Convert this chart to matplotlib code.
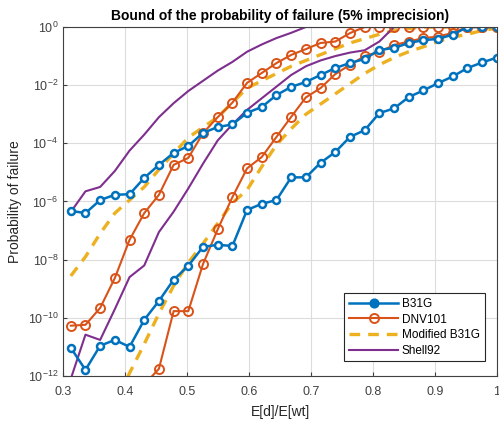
import matplotlib
matplotlib.use('Agg')
import matplotlib.pyplot as plt
import numpy as np

plt.rcParams['font.family'] = ['Liberation Sans', 'DejaVu Sans']
plt.rcParams['mathtext.default'] = 'regular'

# x positions (E[d]/E[wt])
ratio = [0.3125, 0.3362, 0.3599, 0.3836, 0.4073, 0.4310, 0.4547, 0.4784,
         0.5021, 0.5258, 0.5495, 0.5732, 0.5969, 0.6206, 0.6443, 0.6680,
         0.6917, 0.7154, 0.7391, 0.7628, 0.7865, 0.8102, 0.8339, 0.8576,
         0.8813, 0.9050, 0.9287, 0.9524, 0.9761, 1.0000]

# log10 of probability of failure, upper / lower bounds
b31g_up = [-6.32, -6.40, -5.95, -5.77, -5.75, -5.19, -4.74, -4.33, -4.09, -3.64,
           -3.44, -3.35, -2.95, -2.75, -2.34, -2.06, -1.89, -1.65, -1.41, -1.24,
           -1.10, -0.79, -0.72, -0.55, -0.45, -0.41, -0.26, 0.0, 0.0, 0.0]
b31g_lo = [-11.03, -11.79, -10.96, -10.76, -11.00, -10.07, -9.42, -8.69, -8.21, -7.56,
           -7.49, -7.53, -6.29, -6.08, -5.95, -5.17, -5.17, -4.67, -4.30, -3.78,
           -3.55, -2.96, -2.80, -2.41, -2.18, -1.93, -1.70, -1.41, -1.22, -1.05]
dnv_up = [-10.27, -10.24, -9.66, -8.63, -7.32, -6.40, -5.77, -4.74, -4.50, -3.65,
          -3.10, -2.60, -1.92, -1.58, -1.24, -0.96, -0.76, -0.55, -0.50, -0.21,
          0.0, 0.0, 0.0, 0.0, 0.0, 0.0, 0.0, 0.0, 0.0, 0.0]
dnv_lo = [-17.0, -16.0, -15.0, -14.0, -13.2, -12.3, -11.75, -9.77, -9.77, -8.15,
          -6.96, -5.85, -4.86, -4.47, -3.78, -3.09, -2.42, -2.10, -1.62, -1.30,
          -1.00, -0.85, -0.62, -0.50, -0.38, -0.33, -0.20, 0.0, 0.0, 0.0]
mb31g_up = [-8.56, -7.90, -7.10, -6.40, -5.95, -5.50, -4.90, -4.35, -3.80, -3.45,
            -3.10, -2.60, -2.10, -1.85, -1.60, -1.35, -1.15, -0.95, -0.75, -0.55,
            -0.40, -0.25, -0.12, -0.05, 0.0, 0.0, 0.0, 0.0, 0.0, 0.0]
mb31g_lo = [-16.0, -15.0, -14.0, -13.0, -11.9, -10.9, -9.85, -8.90, -8.10, -7.45,
            -6.75, -6.05, -5.60, -4.80, -4.05, -3.50, -3.00, -2.65, -2.30, -1.95,
            -1.60, -1.30, -1.05, -0.85, -0.68, -0.50, -0.35, -0.25, -0.12, -0.04]
shell_up = [-6.36, -5.65, -5.50, -4.95, -4.25, -3.70, -3.10, -2.62, -2.20, -1.85,
            -1.50, -1.20, -0.85, -0.60, -0.38, -0.20, 0.0, 0.0, 0.0, 0.0,
            0.0, 0.0, 0.0, 0.0, 0.0, 0.0, 0.0, 0.0, 0.0, 0.0]
shell_lo = [-12.1, -10.58, -10.76, -9.70, -8.60, -8.20, -7.05, -6.35, -5.55, -4.70,
            -3.90, -3.35, -2.85, -2.45, -2.05, -1.65, -1.35, -1.15, -1.00, -0.88,
            -0.80, -0.50, 0.0, 0.0, 0.0, 0.0, 0.0, 0.0, 0.0, 0.0]

labels = ['B31G', 'DNV101', 'Modified B31G', 'Shell92']
c_blue = '#0072BD'
c_orange = '#D95319'
c_yellow = '#EDB120'
c_purple = '#7E2F8E'

x = np.array(ratio)
p = lambda v: 10.0 ** np.array(v)

fig = plt.figure(figsize=(4.99, 4.26), dpi=100)
ax = fig.add_axes([0.1263, 0.1174, 0.8697, 0.8192])

blue_kw = dict(color=c_blue, lw=1.8, marker='o', ms=5, mfc='white', mew=1.8)
orange_kw = dict(color=c_orange, lw=1.5, marker='o', ms=6.5, mfc='none', mew=1.4)
yellow_kw = dict(color=c_yellow, lw=2.4, ls=(0, (3.2, 2.4)))
purple_kw = dict(color=c_purple, lw=1.5)

ax.plot(x, p(mb31g_up), **yellow_kw)
ax.plot(x, p(mb31g_lo), **yellow_kw)
ax.plot(x, p(shell_up), **purple_kw)
ax.plot(x, p(shell_lo), **purple_kw)
ax.plot(x, p(dnv_up), **orange_kw)
ax.plot(x, p(dnv_lo), **orange_kw)
ax.plot(x, p(b31g_up), **blue_kw)
ax.plot(x, p(b31g_lo), **blue_kw)

# legend proxies
h1, = ax.plot([], [], color=c_blue, lw=1.8, marker='o', ms=5.5, mfc=c_blue, mew=1.8)
h2, = ax.plot([], [], **orange_kw)
h3, = ax.plot([], [], **yellow_kw)
h4, = ax.plot([], [], **purple_kw)

ax.set_yscale('log')
ax.set_xlim(0.3, 1.0)
ax.set_ylim(1e-12, 1e0)
ax.set_yticks([1e-12, 1e-10, 1e-8, 1e-6, 1e-4, 1e-2, 1e0])
ax.yaxis.set_minor_locator(matplotlib.ticker.NullLocator())
ax.set_xticks([0.3, 0.4, 0.5, 0.6, 0.7, 0.8, 0.9, 1.0])
ax.set_xticklabels(['0.3', '0.4', '0.5', '0.6', '0.7', '0.8', '0.9', '1'])
ax.grid(True, color='#dcdcdc', lw=0.8)
ax.set_axisbelow(True)
ax.tick_params(direction='in', labelsize=9, colors='#404040', length=3)
ax.tick_params(axis='x', pad=7)
for s in ax.spines.values():
    s.set_color('#404040')

ax.set_title('Bound of the probability of failure (5% imprecision)',
             fontsize=10, fontweight='bold', pad=5)
ax.set_xlabel('E[d]/E[wt]', fontsize=10, color='#262626', labelpad=5)
ax.set_ylabel('Probability of failure', fontsize=10, color='#262626')

leg = ax.legend([h1, h2, h3, h4], labels, loc='lower right',
                bbox_to_anchor=(0.985, 0.025), fontsize=8.5, handlelength=4.2,
                fancybox=False, framealpha=1, borderpad=0.4, labelspacing=0.3,
                handletextpad=0.3)
leg.get_frame().set_edgecolor('#262626')
leg.get_frame().set_linewidth(0.8)

fig.savefig('out.png', dpi=100)
